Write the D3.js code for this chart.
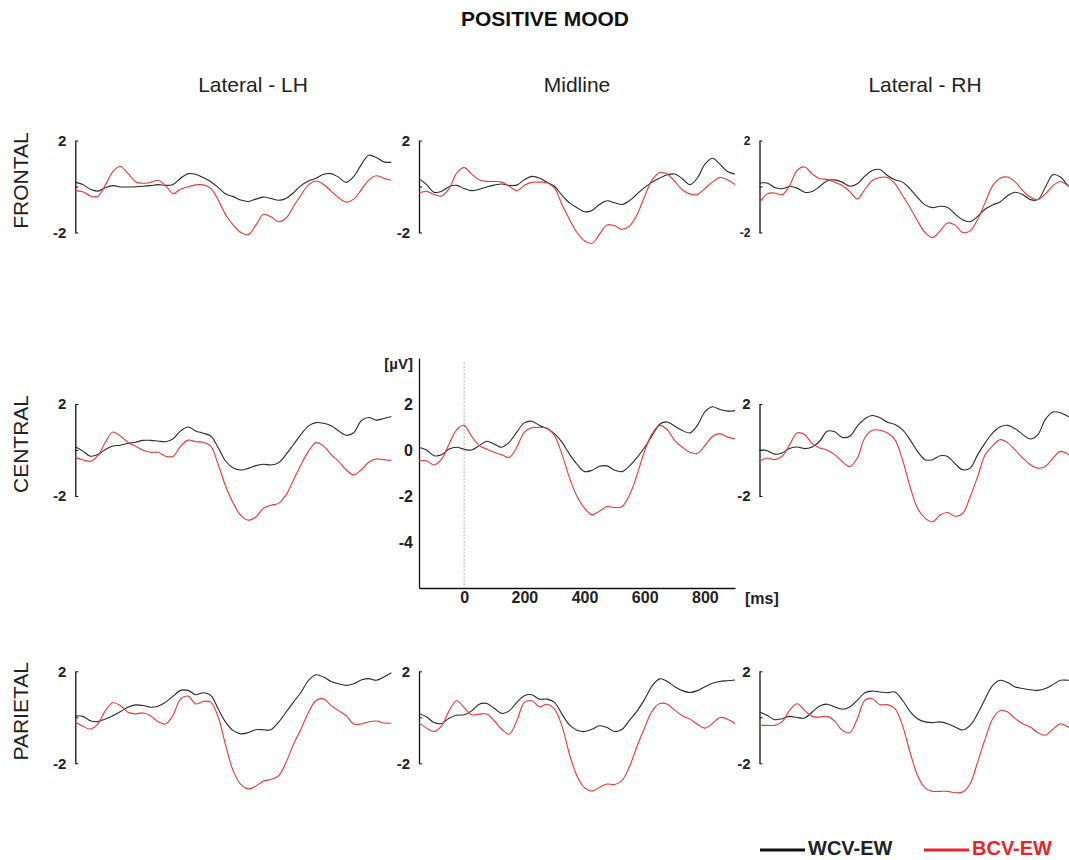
<!DOCTYPE html>
<html lang="en">
<head>
  <meta charset="UTF-8">
  <title>Positive Mood ERP</title>
  <script src="https://d3js.org/d3.v7.min.js"></script>
  <style>
    body { margin: 0; padding: 0; background: #fff; font-family: "Liberation Sans", Arial, sans-serif; }
    svg { display: block; }
    .tick text { font-weight: bold; fill: #222; }
  </style>
</head>
<body>
  <div id="chart"></div>

  <script>
    const width = 1069;
    const height = 860;

    // sample times (ms) shared by every waveform
    const times = d3.range(-150, 901, 25);

    const columns = ["Lateral - LH", "Midline", "Lateral - RH"];
    const rows = ["FRONTAL", "CENTRAL", "PARIETAL"];
    const seriesNames = ["WCV-EW", "BCV-EW"];
    const xTicks = [0, 200, 400, 600, 800];
    const yTicksMain = [2, 0, -2, -4];

    // amplitudes in microvolts
    const frontalLH_wcv = [0.18,0.09,-0.12,-0.2,-0.05,0.04,-0.02,-0.02,-0.01,0.01,0.04,0.08,0.05,0.09,0.36,0.56,0.53,0.39,0.21,-0.05,-0.33,-0.44,-0.59,-0.65,-0.55,-0.46,-0.52,-0.6,-0.52,-0.27,0.04,0.24,0.36,0.53,0.56,0.4,0.18,0.43,0.94,1.36,1.26,1.07,1.05];
    const frontalLH_bcv = [-0.18,-0.23,-0.41,-0.43,0.07,0.65,0.87,0.57,0.21,0.14,0.18,0.27,0.04,-0.31,-0.11,-0.01,0.07,0.07,-0.08,-0.59,-1.24,-1.68,-2.0,-2.09,-1.68,-1.21,-1.32,-1.53,-1.38,-0.87,-0.37,0.07,0.24,0.09,-0.2,-0.49,-0.68,-0.55,-0.15,0.28,0.47,0.36,0.27];
    const frontalMid_wcv = [0.34,0.08,-0.25,-0.21,-0.01,0.05,-0.09,-0.18,-0.12,-0.02,0.06,0.11,0.05,0.06,0.29,0.44,0.37,0.19,0.01,-0.38,-0.71,-0.92,-1.1,-1.04,-0.78,-0.62,-0.71,-0.78,-0.61,-0.32,-0.04,0.19,0.37,0.51,0.54,0.34,0.08,0.37,0.97,1.23,0.97,0.65,0.54];
    const frontalMid_bcv = [-0.28,-0.21,-0.35,-0.41,-0.09,0.58,0.82,0.54,0.29,0.22,0.22,0.19,0.01,-0.18,0.05,0.18,0.19,0.16,-0.06,-0.78,-1.43,-2.0,-2.36,-2.47,-2.07,-1.67,-1.71,-1.86,-1.71,-1.21,-0.42,0.29,0.61,0.54,0.22,-0.14,-0.32,-0.35,-0.09,0.19,0.39,0.29,0.08];
    const frontalRH_wcv = [0.15,0.15,-0.04,-0.1,0,-0.07,-0.25,-0.22,0,0.25,0.29,0.19,0.01,0.12,0.45,0.7,0.74,0.48,0.29,0.19,-0.1,-0.47,-0.8,-0.92,-0.86,-0.91,-1.2,-1.45,-1.53,-1.3,-0.98,-0.8,-0.66,-0.39,-0.25,-0.36,-0.57,-0.57,-0.03,0.51,0.41,0.04,-0.18];
    const frontalRH_bcv = [-0.72,-0.32,-0.28,-0.36,0.04,0.7,0.85,0.55,0.34,0.31,0.19,0.04,-0.22,-0.54,-0.13,0.26,0.39,0.39,0.12,-0.39,-0.91,-1.49,-2.0,-2.22,-1.93,-1.59,-1.68,-2.0,-1.93,-1.42,-0.69,0.04,0.36,0.41,0.19,-0.18,-0.47,-0.57,-0.32,0.04,0.22,0.04,-0.03];
    const centralLH_wcv = [0.14,-0.05,-0.27,-0.2,0.02,0.17,0.21,0.29,0.34,0.42,0.42,0.39,0.36,0.49,0.83,1.0,0.83,0.73,0.61,0.1,-0.49,-0.78,-0.87,-0.8,-0.68,-0.62,-0.65,-0.56,-0.2,0.24,0.68,1.05,1.19,1.16,1.05,0.83,0.64,0.75,1.27,1.41,1.3,1.37,1.46];
    const centralLH_bcv = [-0.32,-0.42,-0.49,-0.24,0.34,0.78,0.61,0.34,0.17,-0.01,-0.1,-0.1,-0.27,-0.27,0.17,0.43,0.36,0.34,0.17,-0.64,-1.59,-2.32,-2.84,-3.05,-2.91,-2.54,-2.4,-2.32,-1.96,-1.3,-0.64,-0.05,0.32,0.17,-0.2,-0.49,-0.86,-1.08,-0.86,-0.53,-0.39,-0.42,-0.45];
    const centralMid_wcv = [0.12,0,-0.25,-0.21,0.04,0.12,0.03,0,0.19,0.38,0.26,0.12,0.34,0.78,1.18,1.25,1.07,0.93,0.71,0.34,-0.18,-0.62,-0.94,-0.88,-0.71,-0.69,-0.88,-0.94,-0.69,-0.32,0.12,0.63,1.12,1.22,1.03,0.85,0.74,1.07,1.66,1.88,1.76,1.69,1.71];
    const centralMid_bcv = [-0.47,-0.47,-0.65,-0.4,0.26,0.88,1.07,0.59,0.19,0.04,-0.1,-0.21,-0.32,0.12,0.78,0.97,0.97,0.96,0.63,-0.18,-1.21,-2.01,-2.53,-2.82,-2.65,-2.46,-2.5,-2.46,-1.94,-1.06,-0.03,0.71,1.07,0.88,0.41,0.12,-0.1,-0.15,0.19,0.59,0.71,0.56,0.49];
    const centralRH_wcv = [0.01,-0.03,-0.18,-0.13,0.07,0.13,0.06,0.13,0.38,0.82,0.79,0.55,0.6,1.04,1.36,1.5,1.4,1.21,1.11,0.89,0.45,-0.06,-0.42,-0.42,-0.25,-0.28,-0.6,-0.86,-0.79,-0.2,0.31,0.74,1.01,1.07,0.92,0.67,0.48,0.67,1.33,1.65,1.62,1.47,1.36];
    const centralRH_bcv = [-0.5,-0.35,-0.42,-0.28,0.23,0.74,0.67,0.28,0.09,-0.01,-0.2,-0.5,-0.72,-0.35,0.53,0.86,0.86,0.74,0.45,-0.42,-1.58,-2.53,-2.96,-3.12,-2.83,-2.72,-2.88,-2.76,-2.03,-1.15,-0.2,0.19,0.45,0.31,-0.01,-0.35,-0.64,-0.79,-0.72,-0.35,-0.06,-0.18,-0.35];
    const parietalLH_wcv = [0.07,0.04,-0.15,-0.19,-0.07,0.07,0.25,0.44,0.54,0.51,0.44,0.48,0.66,0.92,1.17,1.17,0.98,1.07,0.95,0.36,-0.22,-0.58,-0.72,-0.66,-0.54,-0.54,-0.54,-0.22,0.22,0.66,1.09,1.61,1.85,1.75,1.56,1.46,1.39,1.46,1.62,1.68,1.61,1.75,1.94];
    const parietalLH_bcv = [-0.19,-0.39,-0.51,-0.29,0.29,0.63,0.51,0.22,0.15,0.19,0.07,-0.19,-0.29,0.1,0.8,0.92,0.58,0.69,0.66,0,-1.24,-2.34,-2.92,-3.11,-2.99,-2.77,-2.7,-2.55,-1.97,-1.17,-0.51,0.22,0.73,0.8,0.51,0.29,0.07,-0.29,-0.29,-0.19,-0.16,-0.25,-0.25];
    const parietalMid_wcv = [0.17,0.02,-0.23,-0.27,-0.04,0.09,0.11,0.28,0.57,0.6,0.39,0.17,0.28,0.65,0.94,0.98,0.79,0.79,0.65,0.14,-0.33,-0.56,-0.62,-0.52,-0.37,-0.44,-0.62,-0.52,-0.12,0.28,0.79,1.37,1.67,1.56,1.33,1.16,1.08,1.16,1.33,1.48,1.56,1.59,1.62];
    const parietalMid_bcv = [-0.23,-0.47,-0.62,-0.37,0.28,0.72,0.43,0.11,0.14,0.14,-0.15,-0.52,-0.73,-0.15,0.65,0.72,0.46,0.57,0.36,-0.37,-1.61,-2.55,-3.06,-3.21,-3.04,-2.9,-2.92,-2.74,-2.12,-1.24,-0.44,0.28,0.6,0.57,0.31,0.07,-0.08,-0.3,-0.47,-0.27,-0.01,-0.08,-0.27];
    const parietalRH_wcv = [0.23,0.09,-0.1,-0.06,0.04,-0.01,-0.03,0.23,0.49,0.57,0.45,0.35,0.45,0.74,1.07,1.14,1.1,1.07,1.1,0.74,0.26,-0.06,-0.2,-0.23,-0.2,-0.28,-0.42,-0.55,-0.35,0.16,0.81,1.39,1.61,1.51,1.32,1.25,1.2,1.17,1.25,1.42,1.61,1.61,1.59];
    const parietalRH_bcv = [-0.35,-0.35,-0.35,-0.2,0.3,0.59,0.3,0.04,0.01,0.04,-0.17,-0.57,-0.67,-0.06,0.74,0.81,0.55,0.55,0.38,-0.35,-1.51,-2.52,-3.07,-3.22,-3.22,-3.22,-3.28,-3.25,-2.88,-1.94,-0.93,-0.06,0.3,0.23,-0.06,-0.28,-0.42,-0.67,-0.78,-0.52,-0.28,-0.42,-0.61];

    const panelData = [
      [[frontalLH_wcv, frontalLH_bcv], [frontalMid_wcv, frontalMid_bcv], [frontalRH_wcv, frontalRH_bcv]],
      [[centralLH_wcv, centralLH_bcv], [centralMid_wcv, centralMid_bcv], [centralRH_wcv, centralRH_bcv]],
      [[parietalLH_wcv, parietalLH_bcv], [parietalMid_wcv, parietalMid_bcv], [parietalRH_wcv, parietalRH_bcv]]
    ];

    const lineColors = ["#2a2a2a", "#ee3535"];
    const legendColors = ["#111", "#e8262a"];

    // layout
    const colX = [75.3, 419, 759.5];
    const rowZero = [186.5, 450, 717.3];
    const uvPx = 23;     // pixels per microvolt
    const plotW = 316;

    // plain hyphen for negatives, like the original figure
    const fmt = d => String(d);

    const svg = d3.select("#chart")
      .append("svg")
      .attr("width", width)
      .attr("height", height);

    const x = d3.scaleLinear().domain([-150, 900]).range([0, plotW]);

    // titles
    svg.append("text")
      .attr("x", 545).attr("y", 26)
      .attr("text-anchor", "middle")
      .style("font-size", "21px").style("font-weight", "bold")
      .attr("fill", "#111")
      .text("POSITIVE MOOD");

    const colCenters = [253, 577, 925];
    columns.forEach((c, i) => {
      svg.append("text")
        .attr("x", colCenters[i]).attr("y", 92)
        .attr("text-anchor", "middle")
        .style("font-size", "21px")
        .attr("fill", "#222")
        .text(c);
    });

    rows.forEach((r, i) => {
      svg.append("text")
        .attr("transform", `translate(28,${rowZero[i] - 6}) rotate(-90)`)
        .attr("text-anchor", "middle")
        .style("font-size", "21px")
        .attr("fill", "#222")
        .text(r);
    });

    rows.forEach((r, ri) => {
      columns.forEach((c, ci) => {
        const isMain = (ri === 1 && ci === 1);
        const g = svg.append("g").attr("transform", `translate(${colX[ci]},${rowZero[ri]})`);

        const y = isMain
          ? d3.scaleLinear().domain([-6, 4]).range([6 * uvPx, -4 * uvPx])
          : d3.scaleLinear().domain([-2, 2]).range([2 * uvPx, -2 * uvPx]);

        const fs = (ri === 0 && ci === 2) ? "12px" : "15px";

        if (isMain) {
          const yAxis = g.append("g")
            .call(d3.axisLeft(y).tickValues(yTicksMain).tickFormat(fmt).tickSize(0).tickPadding(6));
          yAxis.select(".domain").attr("stroke", "#111").attr("stroke-width", 1.3);
          yAxis.selectAll("text").style("font-size", "16px");

          const xAxis = g.append("g")
            .attr("transform", `translate(0,${y(-6)})`)
            .call(d3.axisBottom(x).tickValues(xTicks).tickFormat(fmt).tickSize(0).tickPadding(4));
          xAxis.select(".domain").attr("stroke", "#111").attr("stroke-width", 1.3);
          xAxis.selectAll("text").style("font-size", "16px");

          g.append("line")
            .attr("x1", x(0)).attr("x2", x(0))
            .attr("y1", y(3.8)).attr("y2", y(-6))
            .attr("stroke", "#999").attr("stroke-width", 0.8)
            .attr("stroke-dasharray", "2,1.5");

          g.append("text")
            .attr("x", -6).attr("y", y(4) + 11)
            .attr("text-anchor", "end")
            .style("font-size", "15px").style("font-weight", "bold")
            .attr("fill", "#222")
            .text("[µV]");

          g.append("text")
            .attr("x", plotW + 10).attr("y", y(-6) + 16)
            .style("font-size", "16px").style("font-weight", "bold")
            .attr("fill", "#222")
            .text("[ms]");
        } else {
          const yAxis = g.append("g")
            .call(d3.axisLeft(y).tickValues([2, 0, -2]).tickSizeInner(-3).tickSizeOuter(0).tickPadding(9)
              .tickFormat(d => d === 0 ? "" : fmt(d)));
          yAxis.select(".domain").attr("stroke", "#111").attr("stroke-width", 1.3);
          yAxis.selectAll(".tick line").attr("stroke", "#111").attr("stroke-width", 1);
          yAxis.selectAll("text").style("font-size", fs);
        }

        const line = d3.line()
          .x((d, i) => x(times[i]))
          .y(d => y(d))
          .curve(d3.curveCatmullRom);

        panelData[ri][ci].forEach((vals, si) => {
          g.append("path")
            .datum(vals)
            .attr("d", line)
            .attr("fill", "none")
            .attr("stroke", lineColors[si])
            .attr("stroke-width", 1.1);
        });
      });
    });

    // legend
    const legendX = [760, 924];
    seriesNames.forEach((s, i) => {
      svg.append("line")
        .attr("x1", legendX[i]).attr("x2", legendX[i] + 45)
        .attr("y1", 850).attr("y2", 850)
        .attr("stroke", legendColors[i]).attr("stroke-width", 3);
      svg.append("text")
        .attr("x", legendX[i] + 48).attr("y", 855)
        .style("font-size", "20px").style("font-weight", "bold")
        .attr("fill", i === 0 ? "#222" : legendColors[i])
        .text(s);
    });
  </script>
</body>
</html>
